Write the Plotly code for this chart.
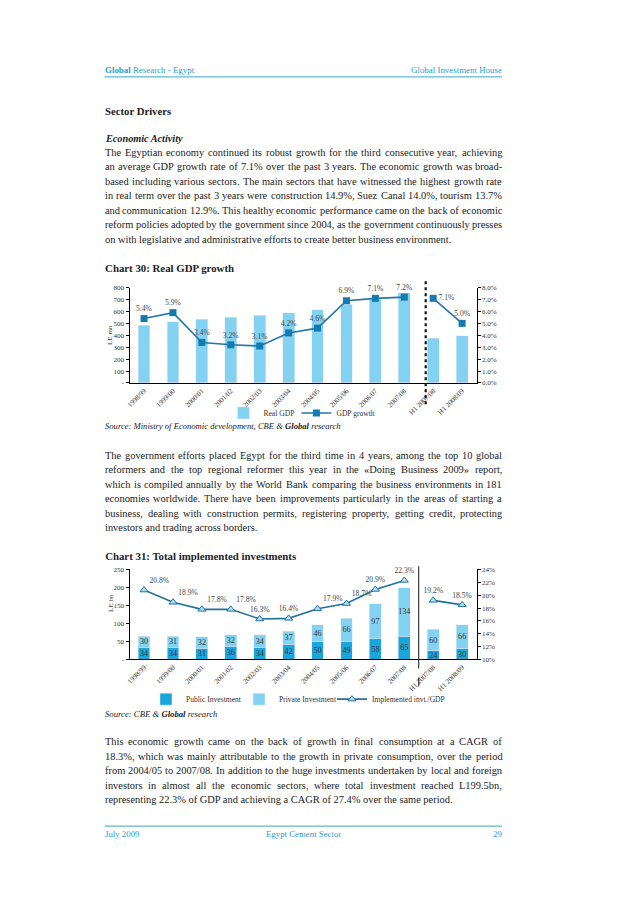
import plotly.graph_objects as go

W, H = 638, 903
FONT = "Liberation Serif"

categories = ["1998/99", "1999/00", "2000/01", "2001/02", "2002/03", "2003/04",
              "2004/05", "2005/06", "2006/07", "2007/08", "H1 2007/08", "H1 2008/09"]

# Chart 30
real_gdp = [486, 515, 534, 551, 568, 590, 615, 660, 702, 758, 377, 397]
gdp_growth = [5.4, 5.9, 3.4, 3.2, 3.1, 4.2, 4.6, 6.9, 7.1, 7.2, 7.1, 5.0]
gdp_left_ticks = [0, 100, 200, 300, 400, 500, 600, 700, 800]
gdp_left_text = ["-", "100", "200", "300", "400", "500", "600", "700", "800"]
gdp_right_ticks = [0, 1, 2, 3, 4, 5, 6, 7, 8]

# Chart 31
public_inv = [34, 34, 31, 36, 34, 42, 50, 49, 58, 65, 24, 30]
private_inv = [30, 31, 32, 32, 34, 37, 46, 66, 97, 134, 60, 66]
inv_gdp = [20.8, 18.9, 17.8, 17.8, 16.3, 16.4, 17.9, 18.7, 20.9, 22.3, 19.2, 18.5]
inv_left_ticks = [0, 50, 100, 150, 200, 250]
inv_left_text = ["-", "50", "100", "150", "200", "250"]
inv_right_ticks = [10, 12, 14, 16, 18, 20, 22, 24]

C_BAR = "#84d2f2"
C_PUB = "#1aa6dd"
C_LINE = "#1f78ab"
C_LINE2 = "#22719c"
C_HEAD = "#2aa0cc"
TXT = "#222222"

# empirical viewport compensation (reference pixel -> figure pixel)
OX, SX, OY, SY = 13.8, 0.988, 11.6, 0.9915


def px(x):
    return ((x - OX) / SX) / W


def py(y):
    return 1 - ((y - OY) / SY) / H


def fs(s):
    return s / SX


fig = go.Figure()
SPACER = dict(color="rgba(0,0,0,0)", size=1, line=dict(width=0, color="rgba(0,0,0,0)"))

# ---------- Chart 30 ----------
fig.add_trace(go.Bar(x=categories, y=real_gdp, name="Real GDP", marker_color=C_BAR,
                     xaxis="x", yaxis="y", legend="legend", width=0.41))
pos30 = ["top center"] * len(categories)
pos30[10] = "middle right"
for seg in (slice(0, 10), slice(10, 12)):
    fig.add_trace(go.Scatter(
        x=categories[seg], y=gdp_growth[seg], name="GDP growth",
        mode="lines+markers+text",
        text=[f"{v:.1f}%" for v in gdp_growth[seg]],
        textposition=pos30[seg],
        textfont=dict(family=FONT, size=fs(7.5), color="#444"),
        line=dict(color=C_LINE, width=1.6),
        marker=dict(symbol="square", size=7, color="#137bb0"),
        xaxis="x", yaxis="y2", legend="legend",
        showlegend=(seg.start == 0), cliponaxis=False))
# invisible spacer entry so the last legend label is not clipped
fig.add_trace(go.Scatter(x=[categories[0]], y=[None], name=" ", mode="markers",
                         marker=SPACER, xaxis="x", yaxis="y2",
                         legend="legend", hoverinfo="skip"))

# ---------- Chart 31 ----------
fig.add_trace(go.Bar(x=categories, y=public_inv, name="Public Investment",
                     marker_color=C_PUB, text=[str(v) for v in public_inv],
                     textposition="inside", insidetextanchor="middle", textangle=0,
                     textfont=dict(family=FONT, size=fs(8), color="#333"),
                     xaxis="x2", yaxis="y3", legend="legend2", width=0.41))
fig.add_trace(go.Bar(x=categories, y=private_inv, name="Private Investment",
                     marker_color=C_BAR, text=[str(v) for v in private_inv],
                     textposition="inside", insidetextanchor="middle", textangle=0,
                     textfont=dict(family=FONT, size=fs(8), color="#333"),
                     xaxis="x2", yaxis="y3", legend="legend2", width=0.41))
pos31 = ["top right", "top right", "top right", "top right", "top center", "top center",
         "top right", "top right", "top center", "top center", "top center", "top center"]
for seg in (slice(0, 10), slice(10, 12)):
    fig.add_trace(go.Scatter(
        x=categories[seg], y=inv_gdp[seg], name="Implemented invt./GDP",
        mode="lines+markers+text",
        text=[f"{v:.1f}%" for v in inv_gdp[seg]],
        textposition=pos31[seg],
        textfont=dict(family=FONT, size=fs(7.5), color="#444"),
        line=dict(color=C_LINE2, width=1.6),
        marker=dict(symbol="triangle-up", size=7, color="#b3e1f4",
                    line=dict(color=C_LINE2, width=1)),
        xaxis="x2", yaxis="y4", legend="legend2",
        showlegend=(seg.start == 0), cliponaxis=False))
fig.add_trace(go.Scatter(x=[categories[0]], y=[None], name=" ", mode="markers",
                         marker=SPACER, xaxis="x2", yaxis="y4",
                         legend="legend2", hoverinfo="skip"))

tickfont = dict(family=FONT, size=fs(7), color="#333")
xdom = [px(130.7), px(475.7)]
common_y = dict(showgrid=False, zeroline=False, showline=True, linecolor="#000",
                linewidth=1, ticks="outside", ticklen=3, tickcolor="#000",
                tickfont=tickfont)
common_x = dict(showgrid=False, zeroline=False, showline=True, linecolor="#000",
                linewidth=1, ticks="", tickangle=-45, tickfont=tickfont,
                type="category", range=[-0.5, 11.5])
legfont = dict(family=FONT, size=fs(7.5), color="#333")

fig.update_layout(
    width=W, height=H, margin=dict(l=0, r=0, t=0, b=0),
    paper_bgcolor="white", plot_bgcolor="white", barmode="stack",
    showlegend=True,
    font=dict(family=FONT, color=TXT),
    xaxis=dict(domain=xdom, anchor="y", **common_x),
    yaxis=dict(domain=[py(382.7), py(287.3)], range=[0, 800], tickvals=gdp_left_ticks,
               ticktext=gdp_left_text, anchor="x", **common_y),
    yaxis2=dict(overlaying="y", side="right", anchor="x", range=[0, 8],
                tickvals=gdp_right_ticks,
                ticktext=[f"{v:.1f}%" for v in gdp_right_ticks], **common_y),
    xaxis2=dict(domain=xdom, anchor="y3", **common_x),
    yaxis3=dict(domain=[py(659.3), py(569.3)], range=[0, 250], tickvals=inv_left_ticks,
                ticktext=inv_left_text, anchor="x2", **common_y),
    yaxis4=dict(overlaying="y3", side="right", anchor="x2", range=[10, 24],
                tickvals=inv_right_ticks,
                ticktext=[f"{v}%" for v in inv_right_ticks], **common_y),
    legend=dict(x=px(224), y=py(412.7), xanchor="left", yanchor="middle",
                orientation="h", font=legfont, traceorder="normal",
                bgcolor="rgba(0,0,0,0)", itemwidth=30, entrywidth=28),
    legend2=dict(x=px(147), y=py(699), xanchor="left", yanchor="middle",
                 orientation="h", font=legfont, traceorder="normal",
                 bgcolor="rgba(0,0,0,0)", itemwidth=30, entrywidth=48),
    uniformtext=dict(minsize=fs(8), mode="show"),
)

shapes = []
shapes.append(dict(type="line", xref="x", yref="paper", x0=9.74, x1=9.74,
                   y0=py(281), y1=py(405), line=dict(color="#111", width=2.2, dash="dot")))
shapes.append(dict(type="line", xref="x2", yref="paper", x0=9.5, x1=9.5,
                   y0=py(566), y1=py(659.3), line=dict(color="#111", width=1)))
shapes.append(dict(type="line", xref="x2", yref="paper", x0=9.5, x1=9.5,
                   y0=py(659.3), y1=py(690), line=dict(color="#111", width=1, dash="dash")))
shapes.append(dict(type="line", xref="paper", yref="paper", x0=px(106), x1=px(501),
                   y0=py(76.5), y1=py(76.5), line=dict(color="#3aa5c8", width=1)))
shapes.append(dict(type="line", xref="paper", yref="paper", x0=px(106), x1=px(501),
                   y0=py(826), y1=py(826), line=dict(color="#3aa5c8", width=1)))
fig.update_layout(shapes=shapes)

ann = []


def text(x, y, s, size=10.3, color=TXT, anchor="left"):
    ann.append(dict(x=px(x), y=py(y), xref="paper", yref="paper", text=s,
                    showarrow=False, xanchor=anchor, yanchor="middle",
                    borderpad=0, borderwidth=0,
                    font=dict(family=FONT, size=fs(size), color=color)))


# Times / Liberation Serif advance widths (per 1000 em)
_w = {' ': 250, '!': 333, '"': 408, '%': 833, '&': 778, "'": 333, '(': 333, ')': 333,
      ',': 250, '-': 333, '.': 250, '/': 278, ':': 278, ';': 278, '?': 444,
      'A': 722, 'B': 667, 'C': 667, 'D': 722, 'E': 611, 'F': 556, 'G': 722, 'H': 722,
      'I': 333, 'J': 389, 'K': 722, 'L': 611, 'M': 889, 'N': 722, 'O': 722, 'P': 556,
      'Q': 722, 'R': 667, 'S': 556, 'T': 611, 'U': 722, 'V': 722, 'W': 944, 'X': 722,
      'Y': 722, 'Z': 611, 'a': 444, 'b': 500, 'c': 444, 'd': 500, 'e': 444, 'f': 333,
      'g': 500, 'h': 500, 'i': 278, 'j': 278, 'k': 500, 'l': 278, 'm': 778, 'n': 500,
      'o': 500, 'p': 500, 'q': 500, 'r': 333, 's': 389, 't': 278, 'u': 500, 'v': 500,
      'w': 722, 'x': 500, 'y': 500, 'z': 444, '«': 500, '»': 500}


def tw(s, size):
    return sum(_w.get(c, 500) for c in s) * size / 1000.0


BODY = 10.3
LEFT, RIGHT = 106, 501


def justified(y, line, last=False):
    if last:
        text(LEFT, y, line, BODY)
        return
    words = line.split(" ")
    widths = [tw(w, BODY) for w in words]
    gap = (RIGHT - LEFT - sum(widths)) / (len(words) - 1)
    gap = max(gap, 1.0)
    x = LEFT
    for w, wd in zip(words, widths):
        text(x, y, w, BODY)
        x += wd + gap


text(106, 70, "<b>Global</b> Research - Egypt", 8.8, C_HEAD)
text(501, 70, "Global Investment House", 8.8, C_HEAD, "right")
text(106, 110.7, "<b>Sector Drivers</b>", 10.6)
text(106, 137.7, "<b><i>Economic Activity</i></b>", 10.1)

para1 = [
    "The Egyptian economy continued its robust growth for the third consecutive year, achieving",
    "an average GDP growth rate of 7.1% over the past 3 years. The economic growth was broad-",
    "based including various sectors. The main sectors that have witnessed the highest growth rate",
    "in real term over the past 3 years were construction 14.9%, Suez Canal 14.0%, tourism 13.7%",
    "and communication 12.9%. This healthy economic performance came on the back of economic",
    "reform policies adopted by the government since 2004, as the government continuously presses",
    "on with legislative and administrative efforts to create better business environment.",
]
for i, s in enumerate(para1):
    justified(151.7 + i * 14.5, s, i == len(para1) - 1)

text(106, 267.3, "<b>Chart 30: Real GDP growth</b>", 10.7)
text(106, 426, "<i>Source: Ministry of Economic development, CBE & <b>Global</b> research</i>", 8.5)

para2 = [
    "The government efforts placed Egypt for the third time in 4 years, among the top 10 global",
    "reformers and the top regional reformer this year in the «Doing Business 2009» report,",
    "which is compiled annually by the World Bank comparing the business environments in 181",
    "economies worldwide. There have been improvements particularly in the areas of starting a",
    "business, dealing with construction permits, registering property, getting credit, protecting",
    "investors and trading across borders.",
]
for i, s in enumerate(para2):
    justified(455 + i * 14.55, s, i == len(para2) - 1)

text(106, 555.7, "<b>Chart 31: Total implemented investments</b>", 10.7)
text(106, 713.5, "<i>Source: CBE & <b>Global</b> research</i>", 8.6)

para3 = [
    "This economic growth came on the back of growth in final consumption at a CAGR of",
    "18.3%, which was mainly attributable to the growth in private consumption, over the period",
    "from 2004/05 to 2007/08. In addition to the huge investments undertaken by local and foreign",
    "investors in almost all the economic sectors, where total investment reached L199.5bn,",
    "representing 22.3% of GDP and achieving a CAGR of 27.4% over the same period.",
]
for i, s in enumerate(para3):
    justified(741.7 + i * 14.4, s, i == len(para3) - 1)

text(106, 833.5, "July 2009", 8.7, C_HEAD)
text(304, 833.5, "Egypt Cement Sector", 8.7, C_HEAD, "center")
text(501, 833.5, "29", 8.7, C_HEAD, "right")

ann.append(dict(x=px(106), y=py(335), xref="paper", yref="paper", text="LE mn",
                showarrow=False, textangle=-90,
                font=dict(family=FONT, size=fs(7), color="#333")))
ann.append(dict(x=px(106), y=py(603), xref="paper", yref="paper", text="LE bn",
                showarrow=False, textangle=-90,
                font=dict(family=FONT, size=fs(7), color="#333")))

fig.update_layout(annotations=ann)
fig.write_html("out.html")
